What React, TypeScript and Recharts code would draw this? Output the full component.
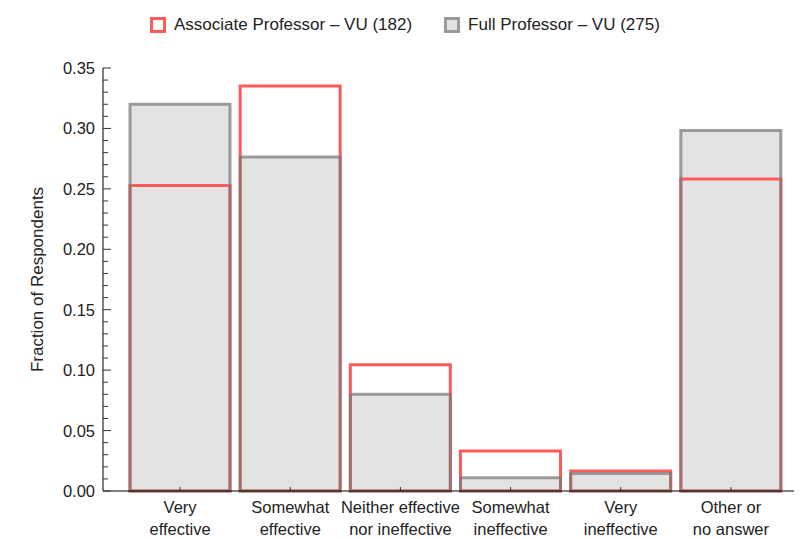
import { BarChart, Bar, XAxis, YAxis, Legend } from 'recharts';

const categories = [
  'Very\neffective',
  'Somewhat\neffective',
  'Neither effective\nnor ineffective',
  'Somewhat\nineffective',
  'Very\nineffective',
  'Other or\nno answer',
];
const associate = [0.2527, 0.3352, 0.1044, 0.033, 0.0165, 0.2582];
const full = [0.32, 0.2764, 0.08, 0.0109, 0.0145, 0.2982];
const legendItems = [
  { label: 'Associate Professor – VU (182)', border: '#ff5a5a', fill: '#ffffff' },
  { label: 'Full Professor – VU (275)', border: '#9a9a9a', fill: '#e3e3e3' },
];

const data = categories.map((c, i) => ({ category: c, associate: associate[i], full: full[i] }));

// minor ticks every 0.01, labels only on every fifth
const yTicks: number[] = [];
for (let i = 0; i <= 35; i++) yTicks.push(i / 100);

const FONT = '"Liberation Sans", Arial, sans-serif';

const YTick = (props: any) => {
  const { x, y, payload } = props;
  const v = payload.value;
  const major = Math.round(v * 100) % 5 === 0;
  return (
    <g>
      <line x1={x} x2={x + (major ? 8 : 5)} y1={y} y2={y} stroke="#333" strokeWidth={1} />
      {major && (
        <text x={x - 8} y={y} dy={6} textAnchor="end" fontSize={16.5} fill="#222" fontFamily={FONT}>
          {v.toFixed(2)}
        </text>
      )}
    </g>
  );
};

const XTick = (props: any) => {
  const { x, y, payload } = props;
  const lines = String(payload.value).split('\n');
  return (
    <g>
      <line x1={x} x2={x} y1={y} y2={y - 4} stroke="#333" strokeWidth={1} />
      {lines.map((l, i) => (
        <text key={i} x={x} y={y + 22 + i * 22} textAnchor="middle" fontSize={16.5} fill="#222" fontFamily={FONT}>
          {l}
        </text>
      ))}
    </g>
  );
};

const LegendContent = () => (
  <div style={{ display: 'flex', alignItems: 'center', height: 20, fontFamily: FONT, fontSize: 17, color: '#222', whiteSpace: 'nowrap' }}>
    {legendItems.map((it, i) => (
      <div key={i} style={{ display: 'flex', alignItems: 'center', marginRight: i === 0 ? 32 : 0 }}>
        <span
          style={{
            display: 'inline-block',
            width: 10,
            height: 10,
            border: `3px solid ${it.border}`,
            background: it.fill,
            marginRight: 8,
          }}
        />
        <span>{it.label}</span>
      </div>
    ))}
  </div>
);

export default function App() {
  const xProps = {
    dataKey: 'category',
    type: 'category' as const,
    padding: { left: 22, right: 8 },
    interval: 0,
  };
  return (
    <div style={{ position: 'absolute', left: 0, top: 0 }}>
      <BarChart
        width={801}
        height={539}
        data={data}
        margin={{ top: 48, right: 7, bottom: 18, left: 43 }}
        barCategoryGap={5}
      >
        <XAxis {...xProps} xAxisId="fill" hide height={0} />
        <XAxis {...xProps} xAxisId="red" hide height={0} />
        <XAxis
          {...xProps}
          xAxisId="main"
          height={30}
          axisLine={{ stroke: '#000', strokeWidth: 1 }}
          tickLine={false}
          tickSize={0}
          tickMargin={0}
          tick={<XTick />}
        />
        <YAxis
          type="number"
          domain={[0, 0.35]}
          ticks={yTicks}
          interval={0}
          width={60}
          axisLine={{ stroke: '#000', strokeWidth: 1 }}
          tickLine={false}
          tickSize={0}
          tickMargin={0}
          tick={<YTick />}
          label={{
            value: 'Fraction of Respondents',
            angle: -90,
            position: 'insideLeft',
            offset: -6,
            style: { fontSize: 17, fill: '#222', fontFamily: FONT, textAnchor: 'middle' },
          }}
        />
        <Legend
          verticalAlign="top"
          content={<LegendContent />}
          wrapperStyle={{ top: 15, left: 150, width: 'auto' }}
        />
        <Bar xAxisId="fill" dataKey="full" fill="#e3e3e3" stroke="none" isAnimationActive={false} legendType="none" />
        <Bar
          xAxisId="red"
          dataKey="associate"
          name="Associate Professor – VU (182)"
          fill="none"
          stroke="#ff5a5a"
          strokeWidth={3}
          isAnimationActive={false}
        />
        <Bar
          xAxisId="main"
          dataKey="full"
          name="Full Professor – VU (275)"
          fill="none"
          stroke="#797979"
          strokeOpacity={0.72}
          strokeWidth={3}
          isAnimationActive={false}
        />
      </BarChart>
    </div>
  );
}
